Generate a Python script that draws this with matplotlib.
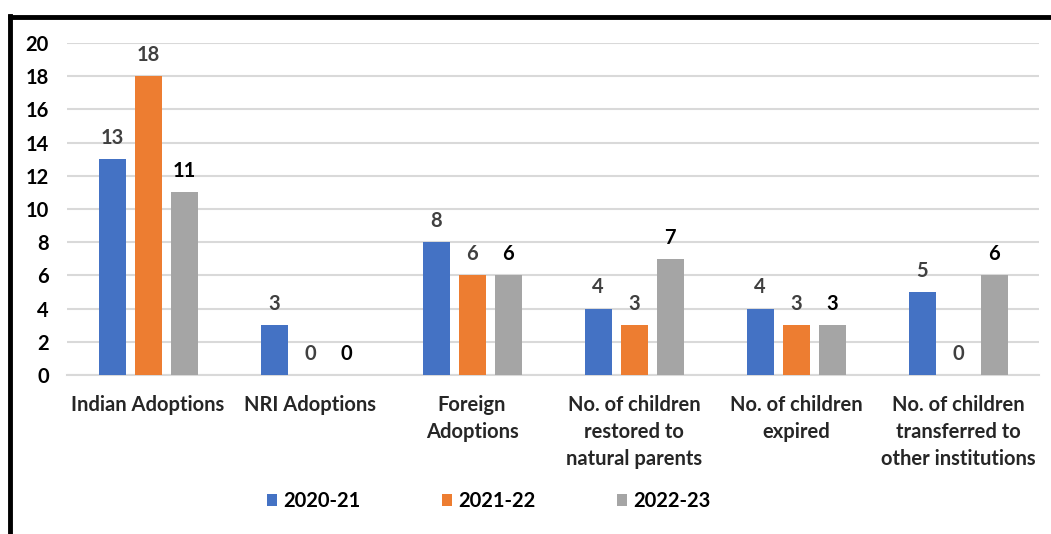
import matplotlib
matplotlib.use("Agg")
import matplotlib.pyplot as plt
import numpy as np
from matplotlib.lines import Line2D

categories = ["Indian Adoptions", "NRI Adoptions", "Foreign\nAdoptions",
              "No. of children\nrestored to\nnatural parents",
              "No. of children\nexpired",
              "No. of children\ntransferred to\nother institutions"]
series_names = ["2020-21", "2021-22", "2022-23"]
v2020 = [13, 3, 8, 4, 4, 5]
v2021 = [18, 0, 6, 3, 3, 0]
v2022 = [11, 0, 6, 7, 3, 6]
yticks = [0, 2, 4, 6, 8, 10, 12, 14, 16, 18, 20]

colors = ["#4472C4", "#ED7D31", "#A5A5A5"]
label_colors = ["#404040", "#404040", "#000000"]

plt.rcParams['font.family'] = ['Lato', 'DejaVu Sans']
FS = 14.5

W, H = 1051, 534
fig = plt.figure(figsize=(W/100, H/100), dpi=100)
ax = fig.add_axes([67/W, 1-375/H, (1039-67)/W, (375-43)/H])

x = np.arange(len(categories))
bw = 27/162
step = 36/162
for i, (vals, c, lc) in enumerate(zip([v2020, v2021, v2022], colors, label_colors)):
    xs = x + (i-1)*step
    ax.bar(xs, vals, width=bw, color=c, zorder=3, label=series_names[i])
    for xi, v in zip(xs, vals):
        ax.annotate(str(v), (xi, v), xytext=(0, 8), textcoords='offset points',
                    ha='center', va='bottom', fontsize=FS, fontweight='bold', color=lc)

ax.set_xlim(-0.5, len(categories)-0.5)
ax.set_ylim(0, 20)
ax.set_yticks(yticks)
ax.set_yticklabels([str(t) for t in yticks], fontsize=FS, fontweight='bold', color='#000000')
ax.yaxis.grid(True, color='#D9D9D9', linewidth=1.5, zorder=0)
ax.set_axisbelow(True)
for s in ['top', 'right', 'left']:
    ax.spines[s].set_visible(False)
ax.spines['bottom'].set_color('#D9D9D9')
ax.spines['bottom'].set_linewidth(1.5)
ax.tick_params(axis='y', length=0, pad=13)
ax.tick_params(axis='x', length=0, pad=14.5)
ax.set_xticks(x)
ax.set_xticklabels(categories, fontsize=FS, fontweight='bold', color='#262626',
                   linespacing=1.42, va='top')

leg = fig.legend(loc='center', bbox_to_anchor=(489/W, 1-501/H), ncol=3, frameon=False,
                 prop={'weight': 'bold', 'size': FS},
                 handlelength=0.5, handleheight=0.5, handletextpad=0.3, columnspacing=4.05)

# outer black border (top and left)
fig.add_artist(Line2D([10/W, 10/W], [0, 1-16/H], color='black', linewidth=3.5,
                      transform=fig.transFigure, solid_capstyle='projecting'))
fig.add_artist(Line2D([10/W, 1], [1-17/H, 1-17/H], color='black', linewidth=3.5,
                      transform=fig.transFigure, solid_capstyle='projecting'))

fig.savefig("out.png", dpi=100)
